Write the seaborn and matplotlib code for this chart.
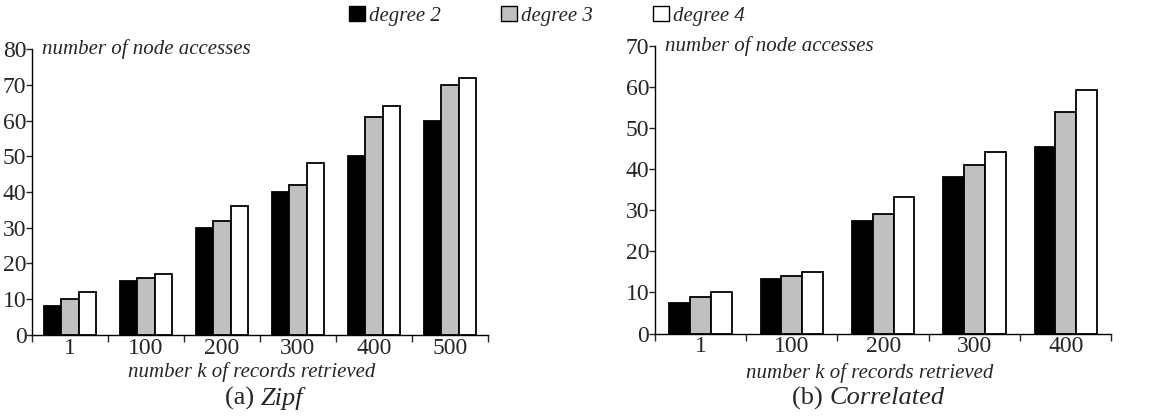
import matplotlib
matplotlib.use("Agg")
import matplotlib.pyplot as plt
from matplotlib.patches import Patch
import numpy as np
import pandas as pd
import seaborn as sns

# values
zipf_k = ["1", "100", "200", "300", "400", "500"]
zipf_deg2 = [8, 15, 30, 40, 50, 60]
zipf_deg3 = [10, 16, 32, 42, 61, 70]
zipf_deg4 = [12, 17, 36, 48, 64, 72]

corr_k = ["1", "100", "200", "300", "400"]
corr_deg2 = [7.4, 13.3, 27.4, 38.0, 45.5]
corr_deg3 = [8.9, 14.1, 29.1, 41.0, 53.8]
corr_deg4 = [10.2, 15.1, 33.2, 44.2, 59.3]

series = ["degree 2", "degree 3", "degree 4"]
colors = ["black", "#c0c0c0", "white"]

sns.set_style("white")
plt.rcParams['font.family'] = ['Liberation Serif', 'DejaVu Serif']


def make_df(ks, d2, d3, d4):
    rows = []
    for name, vals in zip(series, [d2, d3, d4]):
        for k, v in zip(ks, vals):
            rows.append({"k": k, "degree": name, "value": v})
    return pd.DataFrame(rows)


def draw(ax, df, ks, ymax):
    sns.barplot(data=df, x="k", y="value", hue="degree", hue_order=series,
                order=ks, palette=colors, edgecolor="black", linewidth=1.3,
                width=0.68, ax=ax, legend=False)
    n = len(ks)
    ax.set_xlim(-0.5, n - 0.5)
    ax.set_ylim(0, ymax)
    ax.set_yticks(np.arange(0, ymax + 1, 10))
    ax.set_xticks(np.arange(-0.5, n, 1.0))
    ax.set_xticklabels([])
    ax.set_xticks(np.arange(n), minor=True)
    ax.set_xticklabels(ks, minor=True, fontsize=17)
    ax.tick_params(axis="x", which="major", direction="out", length=5, width=1, bottom=True)
    ax.tick_params(axis="x", which="minor", length=0, pad=2)
    ax.tick_params(axis="y", direction="out", length=4, width=1, left=True, labelsize=17, pad=0)
    for s in ["top", "right"]:
        ax.spines[s].set_visible(False)
    for s in ["left", "bottom"]:
        ax.spines[s].set_color("black")
        ax.spines[s].set_linewidth(1)
    ax.set_xlabel("")
    ax.set_ylabel("")
    ax.text(0.022, 1.0, "number of node accesses", transform=ax.transAxes,
            fontsize=15, style="italic", va="center", ha="left")


fig = plt.figure(figsize=(11.59, 4.17), dpi=100)
ax1 = fig.add_axes([0.0276, 0.197, 0.3934, 0.685])
ax2 = fig.add_axes([0.565, 0.200, 0.394, 0.690])

draw(ax1, make_df(zipf_k, zipf_deg2, zipf_deg3, zipf_deg4), zipf_k, 80)
draw(ax2, make_df(corr_k, corr_deg2, corr_deg3, corr_deg4), corr_k, 70)

fig.text(0.2175, 0.108, "number k of records retrieved", fontsize=15, style="italic", ha="center", va="center")
fig.text(0.75, 0.105, "number k of records retrieved", fontsize=15, style="italic", ha="center", va="center")

fig.text(0.225, 0.045, "(a) ", fontsize=19, ha="right", va="center")
fig.text(0.225, 0.045, "Zipf", fontsize=19, style="italic", ha="left", va="center")
fig.text(0.716, 0.045, "(b) ", fontsize=19, ha="right", va="center")
fig.text(0.716, 0.045, "Correlated", fontsize=19, style="italic", ha="left", va="center")

handles = [Patch(facecolor=c, edgecolor="black", linewidth=1) for c in colors]
fig.legend(handles, series, loc="center", bbox_to_anchor=(0.472, 0.962), ncol=3,
           frameon=False, prop={"style": "italic", "size": 15},
           handlelength=0.75, handleheight=0.75, handletextpad=0.2, columnspacing=2.9)

fig.savefig("out.png", dpi=100)
